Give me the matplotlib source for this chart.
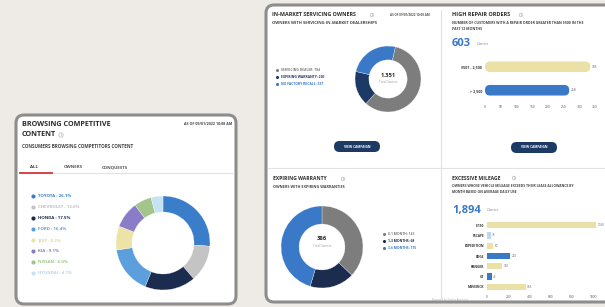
import matplotlib
matplotlib.use("Agg")
import matplotlib.pyplot as plt
from matplotlib.patches import FancyBboxPatch, Circle

plt.rcParams['font.family'] = ['Open Sans', 'DejaVu Sans']

# ---------------- data ----------------
brand_names = ["TOYOTA", "CHEVROLET", "HONDA", "FORD", "JEEP", "KIA", "NISSAN", "HYUNDAI"]
brand_pcts = [26.1, 12.6, 17.5, 16.4, 8.2, 9.1, 6.0, 4.1]
brand_colors = ["#3a7dc9", "#c4c4c4", "#1b2c4f", "#5b9fdc", "#ede3a6", "#8a7cc6", "#a3c48a", "#c5e3f3"]

servicing_names = ["SERVICING DEALER", "EXPIRING WARRANTY", "NO FACTORY RECALL"]
servicing_vals = [784, 230, 337]
servicing_colors = ["#7d7d7d", "#1d3a66", "#3a78c8"]

repair_labels = ["$501 - 2,500", "> 2,500"]
repair_vals = [335, 268]
repair_colors = ["#ebe1a7", "#3a78c8"]
repair_ticks = [0, 50, 100, 150, 200, 250, 300, 350]

warranty_names = ["0-1 MONTH", "1-3 MONTHS", "3-6 MONTHS"]
warranty_vals = [143, 68, 175]
warranty_colors = ["#7d7d7d", "#1b2c4f", "#3a78c8"]

mileage_labels = ["F-150", "ESCAPE", "EXPEDITION", "EDGE", "RANGER", "GT", "MAVERICK"]
mileage_vals = [1030, 35, 60, 220, 140, 45, 364]
mileage_colors = ["#ebe1a7", "#bcd7ef", "#ebe1a7", "#3a78c8", "#ebe1a7", "#3a78c8", "#ebe1a7"]
mileage_ticks = [0, 200, 400, 600, 800, 1000]

# ---------------- figure ----------------
W, H = 605, 307
fig = plt.figure(figsize=(W / 100, H / 100), dpi=100)
fig.patch.set_facecolor("#eeebe6")
bg = fig.add_axes([0, 0, 1, 1])
bg.set_xlim(0, W)
bg.set_ylim(H, 0)
bg.axis("off")


def px_axes(x0, y0, x1, y1):
    ax = fig.add_axes([x0 / W, 1 - y1 / H, (x1 - x0) / W, (y1 - y0) / H])
    ax.set_facecolor("none")
    return ax


def T(x, y, s, size=3.5, color="#333333", weight="normal", ha="left", **kw):
    bg.text(x, y, s, fontsize=size, color=color, fontweight=weight, ha=ha, va="center", **kw)


def info(x, y, r=2.2):
    bg.add_patch(Circle((x, y), r, fc="none", ec="#bbbbbb", lw=0.5, zorder=3))
    T(x, y + 0.2, "i", size=2.6, color="#bbbbbb", weight="bold", ha="center")


def round_bars(ax, bars, px_w, px_h, radius_px):
    """Replace the bar rectangles by rounded boxes of the same geometry."""
    x0, x1 = ax.get_xlim()
    y0, y1 = ax.get_ylim()
    xper = (x1 - x0) / px_w
    yper = (y1 - y0) / px_h
    for b in bars:
        bx, by = b.get_x(), b.get_y()
        bw, bh = b.get_width(), b.get_height()
        r = min(radius_px * xper, bw / 2)
        p = FancyBboxPatch((bx, by), bw, bh,
                           boxstyle=f"round,pad=0,rounding_size={r}",
                           mutation_aspect=yper / xper,
                           fc=b.get_facecolor(), ec="none")
        b.set_visible(False)
        ax.add_patch(p)


DARK = "#2b2b2b"
NAVY = "#1c3a63"

# panels
bg.add_patch(FancyBboxPatch((16, 115), 220, 189, boxstyle="round,pad=0,rounding_size=8",
                            fc="white", ec="#8d8d8d", lw=2.2, zorder=1))
bg.add_patch(FancyBboxPatch((266, 5), 360, 297, boxstyle="round,pad=0,rounding_size=8",
                            fc="white", ec="#8d8d8d", lw=2.2, zorder=1))
# dividers
bg.plot([441, 441], [10, 298], color="#e2e2e2", lw=0.8, zorder=2)
bg.plot([268, 605], [168, 168], color="#e2e2e2", lw=0.8, zorder=2)

# ---------------- left panel ----------------
T(22, 125, "BROWSING COMPETITIVE", size=5.2, color=DARK, weight="bold")
T(22, 135, "CONTENT", size=5.2, color=DARK, weight="bold")
info(61, 135)
T(232, 124, "AS OF 09/01/2022 10:08 AM", size=2.6, color="#444444", weight="bold", ha="right")
T(22, 147, "CONSUMERS BROWSING COMPETITORS CONTENT", size=3.3, color="#444444", weight="bold")
T(34, 167, "ALL", size=3.2, color="#333333", weight="bold", ha="center")
T(73, 167, "OWNERS", size=3.2, color="#555555", weight="bold", ha="center")
T(115, 167, "CONQUESTS", size=3.2, color="#555555", weight="bold", ha="center")
bg.plot([20, 232], [173, 173], color="#eddede", lw=0.8, zorder=2)
bg.plot([20, 52], [173, 173], color="#d9434a", lw=1.4, zorder=3)

text_tone = {"#ede3a6": "#e3d89a", "#c5e3f3": "#b9d6e6", "#c4c4c4": "#bdbdbd"}
legend_y = [196, 207, 218, 229, 240, 251, 262, 273]
for y, n, p, c in zip(legend_y, brand_names, brand_pcts, brand_colors):
    bg.scatter([33], [y], s=9, color=c, zorder=3, linewidths=0)
    T(38, y, f"{n} : {p}%", size=3.2, color=text_tone.get(c, c), weight="bold")

ax = px_axes(116, 196, 210, 290)
ax.pie(brand_pcts, colors=brand_colors, startangle=90, counterclock=False,
       wedgeprops=dict(width=0.34, edgecolor="white", linewidth=0.2))
ax.set_xlim(-1, 1)
ax.set_ylim(-1, 1)

# ---------------- top-left quadrant ----------------
T(272, 15, "IN-MARKET SERVICING OWNERS", size=3.9, color=DARK, weight="bold")
info(372, 15, r=1.8)
T(430, 15, "AS OF 09/01/2022 10:08 AM", size=2.2, color="#555555", weight="bold", ha="right")
T(272, 23, "OWNERS WITH SERVICING IN-MARKET DEALERSHIPS", size=3.0, color="#444444", weight="bold")
for y, n, v, c in zip([70, 77, 84], servicing_names, servicing_vals, servicing_colors):
    bg.scatter([277], [y], s=5, color=c, zorder=3, linewidths=0)
    T(281, y, f"{n}: {v:,}", size=2.4, color=c, weight="bold")
ax = px_axes(355, 46, 421, 112)
ax.pie(servicing_vals, colors=servicing_colors, startangle=77, counterclock=False,
       wedgeprops=dict(width=0.42, edgecolor="white", linewidth=0.2))
ax.set_xlim(-1, 1)
ax.set_ylim(-1, 1)
T(388, 75, f"{sum(servicing_vals):,}", size=4.2, color=DARK, weight="bold", ha="center")
T(388, 82, "Total Owners", size=2.2, color="#999999", ha="center")
bg.add_patch(FancyBboxPatch((334, 141), 46, 11, boxstyle="round,pad=0,rounding_size=5.5",
                            fc=NAVY, ec="none", zorder=3))
T(357, 146.5, "VIEW CAMPAIGN", size=2.3, color="white", weight="bold", ha="center", zorder=4)

# ---------------- top-right quadrant ----------------
T(452, 15, "HIGH REPAIR ORDERS", size=4.0, color=DARK, weight="bold")
info(521, 15, r=1.8)
T(452, 23, "NUMBER OF CUSTOMERS WITH A REPAIR ORDER GREATER THAN $500 IN THE", size=2.5, color="#444444", weight="bold")
T(452, 29, "PAST 12 MONTHS", size=2.5, color="#444444", weight="bold")
T(452, 44, f"{sum(repair_vals)}", size=8, color="#3a78c8", weight="bold")
T(477, 44, "Owners", size=2.4, color="#888888")
ax = px_axes(485, 55, 600, 102)
ypos = list(range(len(repair_vals)))[::-1]
bars = ax.barh(ypos, repair_vals, height=0.45, color=repair_colors)
for y, v in zip(ypos, repair_vals):
    ax.text(v + 5, y, str(v), fontsize=2.4, color="#666666", va="center")
ax.set_ylim(-0.5, 1.5)
ax.set_xlim(0, 366)
round_bars(ax, bars, 115, 47, 5)
ax.set_yticks(ypos)
ax.set_yticklabels(repair_labels, fontsize=2.6, fontweight="bold", color="#333333")
ax.set_xticks(repair_ticks)
ax.set_xticklabels([str(t) for t in repair_ticks], fontsize=2.4, color="#555555")
ax.tick_params(length=0, pad=2)
for s in ax.spines.values():
    s.set_visible(False)
bg.add_patch(FancyBboxPatch((511, 142), 46, 11, boxstyle="round,pad=0,rounding_size=5.5",
                            fc=NAVY, ec="none", zorder=3))
T(534, 147.5, "VIEW CAMPAIGN", size=2.3, color="white", weight="bold", ha="center", zorder=4)

# ---------------- bottom-left quadrant ----------------
T(273, 179, "EXPIRING WARRANTY", size=3.6, color=DARK, weight="bold")
info(343, 179, r=1.8)
T(273, 187, "OWNERS WITH EXPIRING WARRANTIES", size=2.7, color="#444444", weight="bold")
ax = px_axes(281, 206, 363, 288)
ax.pie(warranty_vals, colors=warranty_colors, startangle=90, counterclock=False,
       wedgeprops=dict(width=0.44, edgecolor="white", linewidth=0.2))
ax.set_xlim(-1, 1)
ax.set_ylim(-1, 1)
T(322, 239, f"{sum(warranty_vals)}", size=4.2, color=DARK, weight="bold", ha="center")
T(322, 246, "Total Owners", size=2.2, color="#999999", ha="center")
for y, n, v, c in zip([234, 241, 248], warranty_names, warranty_vals, warranty_colors):
    bg.scatter([384], [y], s=5, color=c, zorder=3, linewidths=0)
    T(388, y, f"{n}: {v}", size=2.4, color=c, weight="bold")

# ---------------- bottom-right quadrant ----------------
T(452, 178, "EXCESSIVE MILEAGE", size=3.6, color=DARK, weight="bold")
info(514, 178, r=1.8)
T(452, 186, "OWNERS WHOSE VEHICLE MILEAGE EXCEEDS THEIR LEASE ALLOWANCE BY", size=2.4, color="#444444", weight="bold")
T(452, 192, "MONTH BASED ON AVERAGE DAILY USE", size=2.4, color="#444444", weight="bold")
T(452, 210, f"{sum(mileage_vals):,}", size=8, color="#3a78c8", weight="bold")
T(487, 210, "Owners", size=2.4, color="#888888")
ax = px_axes(487, 220, 600, 292)
ypos = list(range(len(mileage_vals)))[::-1]
ax.barh(ypos, mileage_vals, height=0.62, color=mileage_colors)
for y, v in zip(ypos, mileage_vals):
    ax.text(v + 15, y, str(v), fontsize=2.2, color="#666666", va="center")
ax.set_ylim(-0.5, len(mileage_vals) - 0.5)
ax.set_xlim(0, 1066)
ax.set_yticks(ypos)
ax.set_yticklabels(mileage_labels, fontsize=2.3, fontweight="bold", color="#333333")
ax.set_xticks(mileage_ticks)
ax.set_xticklabels([str(t) for t in mileage_ticks], fontsize=2.3, color="#555555")
ax.tick_params(length=0, pad=2)
for s in ax.spines.values():
    s.set_visible(False)
T(432, 300, "Powered by Dealer Analytics", size=2.0, color="#aaaaaa")

fig.savefig("out.png", dpi=100, facecolor=fig.get_facecolor())
